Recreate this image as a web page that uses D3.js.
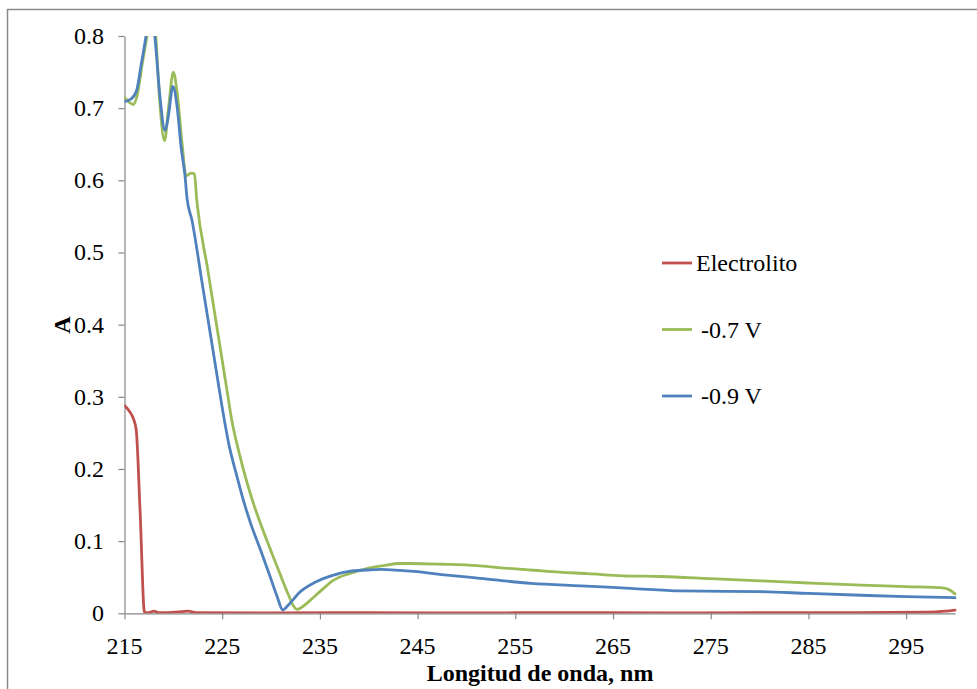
<!DOCTYPE html>
<html><head><meta charset="utf-8">
<script src="https://cdn.jsdelivr.net/npm/d3@7"></script>
</head><body>
<div id="wrap"><svg id="chart" width="977" height="689"></svg></div>
<script>
// ---- data ----
const seriesNames = ["Electrolito", "-0.7 V", "-0.9 V"];
const seriesColors = ["#C0504D", "#9BBB59", "#4F81BD"];
const xTickValues = [215, 225, 235, 245, 255, 265, 275, 285, 295];
const yTickValues = [0, 0.1, 0.2, 0.3, 0.4, 0.5, 0.6, 0.7, 0.8];
const yTickLabels = ["0", "0.1", "0.2", "0.3", "0.4", "0.5", "0.6", "0.7", "0.8"];
const xLabel = "Longitud de onda, nm";
const yLabel = "A";

const electrolitoNm = [215, 215.5, 215.9, 216.2, 216.6, 217.05, 217.5, 218.0, 218.5, 219.5, 220.5, 221.5, 222.3, 230, 240, 250, 260, 270, 280, 290, 297, 299, 300];
const electrolitoA  = [0.288, 0.280, 0.270, 0.254, 0.14, 0.001, 0.001, 0.003, 0.001, 0.001, 0.002, 0.003, 0.001, 0.0005, 0.001, 0.0005, 0.001, 0.0005, 0.001, 0.001, 0.0015, 0.003, 0.0045];

const v07Nm = [215, 215.5, 215.9, 216.3, 216.8, 217.3, 217.8, 218.2, 218.6, 219.1, 219.5, 220.0, 220.4, 220.9, 221.3, 221.8, 222.15, 222.4, 223.5, 224.5, 225.5, 226.0, 226.7, 227.5, 228.2, 228.9, 230.0, 230.9, 231.8, 232.3, 232.65, 233.1, 234.0, 235.0, 236.4, 238.0, 239.8, 241.5, 243.2, 244.3, 247.5, 251.1, 253.5, 256.6, 259.5, 262.4, 266, 269.9, 275, 280.1, 285, 290.4, 295, 298.9, 299.5, 300];
const v07A  = [0.715, 0.708, 0.705, 0.718, 0.76, 0.80, 0.845, 0.80, 0.71, 0.655, 0.70, 0.750, 0.72, 0.65, 0.606, 0.610, 0.609, 0.572, 0.478, 0.393, 0.308, 0.266, 0.224, 0.183, 0.152, 0.125, 0.086, 0.055, 0.025, 0.010, 0.0055, 0.008, 0.018, 0.030, 0.046, 0.055, 0.062, 0.066, 0.069, 0.069, 0.068, 0.066, 0.063, 0.060, 0.057, 0.055, 0.052, 0.051, 0.048, 0.045, 0.042, 0.039, 0.037, 0.035, 0.032, 0.027];

const v09Nm = [215, 215.7, 216.25, 216.7, 217.2, 217.6, 218.1, 218.6, 219.15, 219.5, 219.95, 220.4, 220.8, 221.2, 221.4, 221.9, 223.0, 224.3, 225.0, 225.7, 226.5, 227.2, 227.9, 229.0, 229.9, 230.6, 231.2, 231.8, 233.0, 234.5, 236.4, 238.0, 239.8, 241.2, 243.2, 244.6, 248.0, 251.4, 256.6, 261.7, 266.8, 271.9, 280.1, 285, 290.4, 295, 300];
const v09A  = [0.709, 0.713, 0.725, 0.76, 0.80, 0.84, 0.80, 0.72, 0.669, 0.69, 0.730, 0.70, 0.645, 0.605, 0.575, 0.545, 0.453, 0.344, 0.285, 0.233, 0.190, 0.155, 0.125, 0.085, 0.051, 0.024, 0.0046, 0.012, 0.030, 0.043, 0.053, 0.058, 0.060, 0.061, 0.0595, 0.058, 0.053, 0.0485, 0.0415, 0.038, 0.0346, 0.031, 0.030, 0.0275, 0.025, 0.023, 0.0216];

const seriesNm = [electrolitoNm, v07Nm, v09Nm];
const seriesA = [electrolitoA, v07A, v09A];

// ---- layout ----
d3.select("body").style("margin", "0").style("padding", "0").style("background", "#fff");
const wrap = d3.select("#wrap").style("position", "relative").style("width", "977px").style("height", "689px").style("overflow", "hidden");
const svg = d3.select("#chart").style("display", "block").style("position", "absolute").style("left", "0px").style("top", "0px");
const pLeft = 124.5, pRight = 955, pTop = 36, pBottom = 613.3;
const x = d3.scaleLinear().domain([215, 300]).range([pLeft, pRight]);
const y = d3.scaleLinear().domain([0, 0.8]).range([pBottom, pTop]);
const fontStack = "'Liberation Serif', 'Times New Roman', Tinos, Times, serif";
const axisColor = "#868686";

// text labels as positioned HTML text (serif)
function label(txt, left, top, transform, bold) {
  return wrap.append("div").text(txt)
    .style("position", "absolute").style("left", left + "px").style("top", top + "px")
    .style("transform", transform).style("transform-origin", "center center")
    .style("font-family", fontStack).style("font-size", "24px").style("line-height", "24px")
    .style("font-weight", bold ? "bold" : "normal").style("color", "#000")
    .style("white-space", "nowrap").style("margin", "0").style("padding", "0");
}

// outer frame (top and left edges visible)
svg.append("path")
  .attr("d", "M7.5,689 L7.5,9.5 L977,9.5")
  .attr("fill", "none").attr("stroke", "#8a8a8a").attr("stroke-width", 1.5);

// clip
svg.append("clipPath").attr("id", "plotclip")
  .append("rect").attr("x", pLeft).attr("y", pTop).attr("width", pRight - pLeft + 2).attr("height", pBottom - pTop);

// axes (lines and ticks from d3 axes; labels drawn as serif text below)
const xAxis = d3.axisBottom(x).tickValues(xTickValues).tickSize(6).tickSizeOuter(0).tickFormat("");
const yAxis = d3.axisLeft(y).tickValues(yTickValues).tickSize(6).tickSizeOuter(0).tickFormat("");
const gx = svg.append("g").attr("transform", `translate(0,${pBottom})`).call(xAxis);
const gy = svg.append("g").attr("transform", `translate(${pLeft},0)`).call(yAxis);
[gx, gy].forEach(g => {
  g.selectAll(".tick text").remove();
  g.select(".domain").attr("stroke", axisColor).attr("stroke-width", 1.2);
  g.selectAll(".tick line").attr("stroke", axisColor).attr("stroke-width", 1.2);
});

xTickValues.forEach(v => label(d3.format("d")(v), x(v), pBottom + 21, "translateX(-50%)", false));
yTickValues.forEach((v, i) => label(yTickLabels[i], pLeft - 20.5, y(v) - 12, "translateX(-100%)", false));

// axis titles
label(xLabel, 540, 661, "translateX(-50%)", true);
label(yLabel, 62, 325, "translate(-50%,-50%) rotate(-90deg)", true);

// lines
const line = d3.line().x(d => x(d[0])).y(d => y(d[1])).curve(d3.curveMonotoneX);
const plot = svg.append("g").attr("clip-path", "url(#plotclip)");
seriesNames.forEach((name, i) => {
  const pts = seriesNm[i].map((v, j) => [v, seriesA[i][j]]);
  plot.append("path").datum(pts).attr("d", line)
    .attr("fill", "none").attr("stroke", seriesColors[i]).attr("stroke-width", 2.8)
    .attr("stroke-linejoin", "round").attr("stroke-linecap", "round");
});

// legend
const legendY = d3.scalePoint().domain(seriesNames).range([263, 396]);
seriesNames.forEach((name, i) => {
  const yy = legendY(name);
  svg.append("line").attr("x1", 662).attr("x2", 692).attr("y1", yy).attr("y2", yy)
    .attr("stroke", seriesColors[i]).attr("stroke-width", 2.8);
  label(name, i === 0 ? 696 : 701, yy - 12, "none", false);
});
</script>
</body></html>
